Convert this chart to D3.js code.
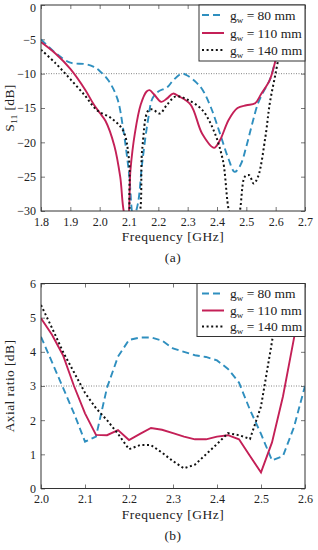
<!DOCTYPE html>
<html>
<head>
<meta charset="utf-8">
<script src="https://cdn.jsdelivr.net/npm/d3@7"></script>
<style>
  body { margin: 0; background: #fff; }
  svg { display: block; font-family: "Liberation Serif", "Times New Roman", Times, serif; }
</style>
</head>
<body>
<script>
// ---- data: panel (a) S11 ----
const s11Freq80 = [1.80, 1.85, 1.90, 1.95, 1.98, 2.00, 2.03, 2.06, 2.08, 2.10, 2.115, 2.13, 2.145, 2.165, 2.18, 2.20, 2.23, 2.25, 2.28, 2.30, 2.33, 2.35, 2.38, 2.41, 2.44, 2.46, 2.48, 2.50, 2.52, 2.54, 2.56, 2.58, 2.60, 2.62];
const s11Val80  = [-5.0, -7.0, -8.4, -8.6, -9.0, -9.6, -11.0, -13.6, -18, -24.5, -31, -29, -23, -16.7, -13.6, -12.6, -12.0, -11.0, -10.0, -10.3, -11.3, -12.3, -15.0, -18.7, -22.5, -24.3, -23.3, -20.6, -17.3, -14.3, -12.5, -10.9, -8.0, -5.0];

const s11Freq110 = [1.80, 1.85, 1.90, 1.95, 1.98, 2.00, 2.02, 2.05, 2.07, 2.085, 2.095, 2.105, 2.12, 2.14, 2.16, 2.17, 2.185, 2.21, 2.23, 2.25, 2.27, 2.31, 2.35, 2.39, 2.41, 2.44, 2.47, 2.50, 2.53, 2.55, 2.58, 2.60, 2.62];
const s11Val110  = [-5.4, -7.1, -9.3, -12.3, -14.5, -15.7, -16.9, -20.5, -25, -30.5, -31, -24, -18.7, -14.5, -12.6, -12.4, -13.0, -14.1, -13.6, -12.9, -13.3, -14.5, -18.8, -20.8, -19.7, -16.7, -15.0, -14.6, -14.3, -13.0, -10.9, -8.0, -5.0];

const s11Freq140 = [1.80, 1.85, 1.90, 1.95, 1.99, 2.04, 2.08, 2.10, 2.11, 2.13, 2.145, 2.165, 2.18, 2.205, 2.23, 2.26, 2.30, 2.35, 2.39, 2.42, 2.45, 2.47, 2.495, 2.51, 2.525, 2.54, 2.565, 2.58, 2.60, 2.615];
const s11Val140  = [-6.5, -8.5, -10.8, -13.2, -15.3, -16.5, -18.3, -22.5, -31, -31, -21, -15.4, -15.2, -15.8, -14.5, -13.3, -13.8, -15.3, -18.4, -22.6, -31, -31, -25, -24.8, -26, -25, -19.2, -14.3, -9.9, -6.5];

// ---- data: panel (b) axial ratio ----
const arFreq = [2.000, 2.025, 2.050, 2.075, 2.100, 2.125, 2.150, 2.175, 2.200, 2.225, 2.250, 2.275, 2.300, 2.325, 2.350, 2.375, 2.400, 2.425, 2.450, 2.475, 2.500, 2.525, 2.550, 2.575, 2.600];
const ar80  = [4.44, 3.70, 2.95, 2.20, 1.37, 1.52, 2.95, 3.86, 4.35, 4.42, 4.42, 4.33, 4.10, 4.00, 3.90, 3.85, 3.75, 3.50, 3.10, 2.30, 1.60, 0.82, 0.95, 1.80, 3.00];
const ar110 = [4.98, 4.50, 3.90, 3.00, 2.20, 1.57, 1.56, 1.71, 1.42, 1.60, 1.77, 1.72, 1.62, 1.52, 1.44, 1.44, 1.52, 1.56, 1.44, 0.95, 0.47, 1.35, 2.70, 4.40, 6.00];
const ar140 = [5.37, 4.70, 4.00, 3.40, 2.80, 2.35, 2.00, 1.60, 1.15, 1.27, 1.27, 1.05, 0.80, 0.59, 0.70, 1.00, 1.30, 1.62, 1.56, 1.45, 2.40, 4.30, 6.30, 6.50, 6.50];

const legendLabels = ["80 mm", "110 mm", "140 mm"];
const colors = ["#2f8fbf", "#c42057", "#111111"];
const dashes = ["7,4", null, "2,2.6"];
const serif = "'Liberation Serif', 'Times New Roman', Times, serif";

const svg = d3.select("body").append("svg")
  .attr("width", 318)
  .attr("height", 550);

function drawPanel(cfg) {
  const x = d3.scaleLinear().domain(cfg.xDomain).range([41, 305]);
  const y = d3.scaleLinear().domain(cfg.yDomain).range([cfg.bottom, cfg.top]);
  const g = svg.append("g");
  const clipId = "clip" + cfg.name;

  g.append("clipPath").attr("id", clipId)
    .append("rect")
    .attr("x", 41).attr("y", cfg.top)
    .attr("width", 264).attr("height", cfg.bottom - cfg.top);

  // reference line
  g.append("line")
    .attr("x1", 41).attr("x2", 305)
    .attr("y1", y(cfg.refLine)).attr("y2", y(cfg.refLine))
    .attr("stroke", "#666").attr("stroke-width", 0.8)
    .attr("stroke-dasharray", "1,1.5");

  // axes, ticks inward on all four sides
  const axB = g.append("g").attr("transform", `translate(0,${cfg.bottom})`)
    .call(d3.axisBottom(x).tickValues(cfg.xTicks).tickSize(-4).tickPadding(6).tickFormat(d3.format(".1f")));
  const axT = g.append("g").attr("transform", `translate(0,${cfg.top})`)
    .call(d3.axisTop(x).tickValues(cfg.xTicks).tickSize(-4).tickFormat(""));
  const axL = g.append("g").attr("transform", "translate(41,0)")
    .call(d3.axisLeft(y).tickValues(cfg.yTicks).tickSize(-4).tickPadding(5).tickFormat(d3.format("d")));
  const axR = g.append("g").attr("transform", "translate(305,0)")
    .call(d3.axisRight(y).tickValues(cfg.yTicks).tickSize(-4).tickFormat(""));
  [axB, axT, axL, axR].forEach(a => {
    a.attr("font-family", serif);
    a.select(".domain").remove();
    a.selectAll("line").attr("stroke", "#555").attr("stroke-width", 0.8);
    a.selectAll("text").attr("font-size", 12).attr("fill", "#222");
  });
  // keep the top label inside the picture
  if (cfg.top < 8) {
    axL.selectAll(".tick text").filter(d => d === cfg.yDomain[1]).attr("dy", "0.55em");
  }

  // series
  cfg.series.forEach((s, i) => {
    const pts = s.f.map((f, j) => [f, s.v[j]]);
    g.append("path")
      .datum(pts)
      .attr("clip-path", `url(#${clipId})`)
      .attr("fill", "none")
      .attr("stroke", colors[i])
      .attr("stroke-width", i === 2 ? 2 : 1.9)
      .attr("stroke-dasharray", dashes[i])
      .attr("d", d3.line().x(d => x(d[0])).y(d => y(d[1])).curve(cfg.curve));
  });

  // frame
  g.append("rect")
    .attr("x", 41).attr("y", cfg.top)
    .attr("width", 264).attr("height", cfg.bottom - cfg.top)
    .attr("fill", "none").attr("stroke", "#333").attr("stroke-width", 1);

  // legend
  const lg = g.append("g");
  lg.append("rect")
    .attr("x", cfg.legend.x).attr("y", cfg.legend.y)
    .attr("width", 305 - cfg.legend.x).attr("height", cfg.legend.h)
    .attr("fill", "#fff").attr("stroke", "#333").attr("stroke-width", 1);
  legendLabels.forEach((lab, i) => {
    const yy = cfg.legend.rows[i];
    lg.append("line")
      .attr("x1", 202).attr("x2", 224)
      .attr("y1", yy).attr("y2", yy)
      .attr("stroke", colors[i]).attr("stroke-width", 2)
      .attr("stroke-dasharray", dashes[i]);
    const t = lg.append("text")
      .attr("x", 230).attr("y", yy + 4.5)
      .attr("font-size", 13.5).attr("fill", "#222");
    t.append("tspan").text("g");
    t.append("tspan").attr("font-size", 9).attr("dy", 3).text("w");
    t.append("tspan").attr("dy", -3).text(" = " + lab);
  });

  // axis labels
  g.append("text")
    .attr("x", 173).attr("y", cfg.bottom + 30)
    .attr("text-anchor", "middle").attr("font-size", 13.5).attr("fill", "#222")
    .attr("letter-spacing", 0.5)
    .text("Frequency [GHz]");
  g.append("text")
    .attr("x", 173).attr("y", cfg.bottom + 51)
    .attr("text-anchor", "middle").attr("font-size", 13.5).attr("fill", "#222")
    .attr("letter-spacing", 0.5)
    .text(cfg.caption);

  const yl = g.append("text")
    .attr("transform", `translate(14,${(cfg.top + cfg.bottom) / 2}) rotate(-90)`)
    .attr("text-anchor", "middle").attr("font-size", 13.5).attr("fill", "#222")
    .attr("letter-spacing", 0.4);
  cfg.yLabel(yl);
}

drawPanel({
  name: "a",
  xDomain: [1.8, 2.7], yDomain: [-30, 0],
  top: 5, bottom: 211,
  xTicks: d3.range(18, 28).map(d => d / 10),
  yTicks: [-30, -25, -20, -15, -10, -5, 0],
  refLine: -10,
  curve: d3.curveCatmullRom.alpha(0.5),
  series: [
    { f: s11Freq80, v: s11Val80 },
    { f: s11Freq110, v: s11Val110 },
    { f: s11Freq140, v: s11Val140 }
  ],
  legend: { x: 199, y: 5, h: 56, rows: [15, 33, 50] },
  caption: "(a)",
  yLabel: t => {
    t.append("tspan").text("S");
    t.append("tspan").attr("font-size", 9).attr("dy", 3).text("11");
    t.append("tspan").attr("dy", -3).text(" [dB]");
  }
});

drawPanel({
  name: "b",
  xDomain: [2.0, 2.6], yDomain: [0, 6],
  top: 283.5, bottom: 488.5,
  xTicks: [2.0, 2.1, 2.2, 2.3, 2.4, 2.5, 2.6],
  yTicks: [0, 1, 2, 3, 4, 5, 6],
  refLine: 3,
  curve: d3.curveLinear,
  series: [
    { f: arFreq, v: ar80 },
    { f: arFreq, v: ar110 },
    { f: arFreq, v: ar140 }
  ],
  legend: { x: 197, y: 283.5, h: 53, rows: [293.5, 310.5, 326.5] },
  caption: "(b)",
  yLabel: t => t.text("Axial ratio [dB]")
});
</script>
</body>
</html>
